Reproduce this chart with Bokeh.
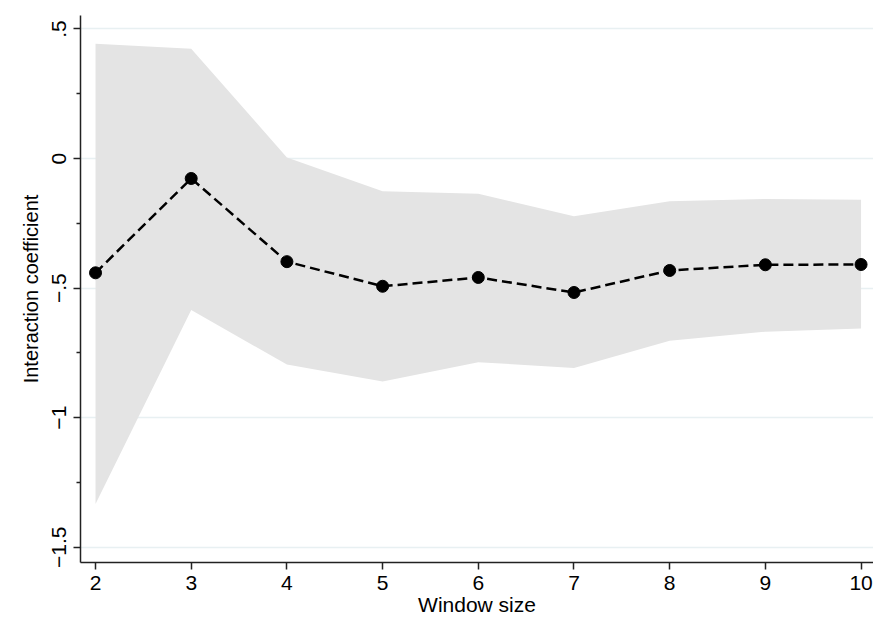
from bokeh.plotting import figure
from bokeh.models import Range1d, FixedTicker, ColumnDataSource
from bokeh.embed import file_html
from bokeh.resources import INLINE

# Data
window_size = [2, 3, 4, 5, 6, 7, 8, 9, 10]
coef = [-0.441, -0.077, -0.398, -0.493, -0.459, -0.517, -0.432, -0.410, -0.409]
upper = [0.443, 0.424, 0.004, -0.126, -0.136, -0.223, -0.165, -0.156, -0.159]
lower = [-1.333, -0.585, -0.795, -0.860, -0.786, -0.808, -0.703, -0.668, -0.656]

y_ticks = [-1.5, -1.0, -0.5, 0.0, 0.5]
y_tick_labels = ["\u22121.5", "\u22121", "\u2212.5", "0", ".5"]
y_minor = [-1.25, -0.75, -0.25, 0.25]
x_ticks = [2, 3, 4, 5, 6, 7, 8, 9, 10]

src = ColumnDataSource(dict(x=window_size, y=coef, lo=lower, hi=upper))

FONT = "Liberation Sans"

p = figure(width=873, height=619, output_backend="svg", toolbar_location=None,
           x_range=Range1d(1.843, 10.13), y_range=Range1d(-1.559, 0.552),
           min_border_left=80, min_border_right=0, min_border_top=15, min_border_bottom=57)
p.outline_line_color = None
p.background_fill_color = "white"
p.border_fill_color = "white"

# confidence band
p.varea(x="x", y1="lo", y2="hi", source=src, fill_color="#e4e4e4", fill_alpha=1.0)
# point estimates
p.line(x="x", y="y", source=src, line_color="black", line_width=2.5, line_dash="10 5")
p.scatter(x="x", y="y", source=src, size=12, fill_color="black", line_color="black")

# grid
p.xgrid.visible = False
p.ygrid.ticker = FixedTicker(ticks=y_ticks)
p.ygrid.grid_line_color = "#e8f0f2"
p.ygrid.grid_line_width = 1.5

# y axis
ya = p.yaxis[0]
ya.ticker = FixedTicker(ticks=y_ticks, minor_ticks=y_minor)
ya.major_label_overrides = {t: l for t, l in zip(y_ticks, y_tick_labels)}
ya.major_label_orientation = "parallel"
ya.axis_label = "Interaction coefficient"

# x axis
xa = p.xaxis[0]
xa.ticker = FixedTicker(ticks=x_ticks)
xa.axis_label = "Window size"

for ax in (xa, ya):
    ax.axis_line_color = "#222222"
    ax.axis_line_width = 1.5
    ax.major_tick_line_color = "#222222"
    ax.major_tick_line_width = 1.5
    ax.minor_tick_line_color = "#222222"
    ax.minor_tick_line_width = 1.5
    ax.major_tick_in = 0
    ax.major_tick_out = 7
    ax.minor_tick_in = 0
    ax.minor_tick_out = 4
    ax.major_label_text_font = FONT
    ax.major_label_text_font_size = "21px"
    ax.major_label_text_color = "black"
    ax.major_label_standoff = 6
    ax.axis_label_text_font = FONT
    ax.axis_label_text_font_size = "21px"
    ax.axis_label_text_font_style = "normal"
    ax.axis_label_text_color = "black"
    ax.axis_label_standoff = 0

ya.axis_label_text_font_size = "20px"
ya.major_label_standoff = 7
ya.axis_label_standoff = 8
xa.minor_tick_out = 0

open("out.html", "w").write(file_html(p, INLINE))
